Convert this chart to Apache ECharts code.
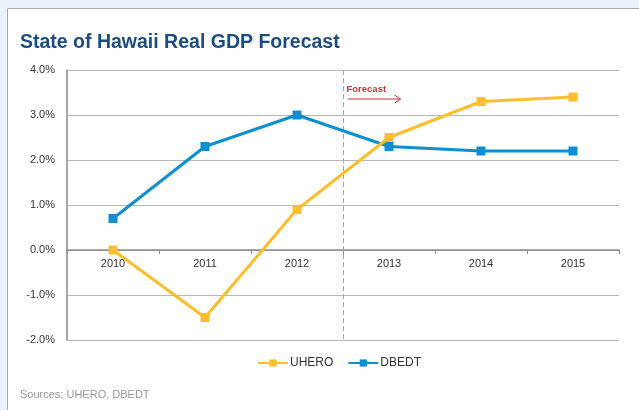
<!DOCTYPE html>
<html><head><meta charset="utf-8">
<script src="https://cdn.jsdelivr.net/npm/echarts@6/dist/echarts.min.js"></script>
<style>html,body{margin:0;padding:0;background:#fff}#c{width:639px;height:410px}</style>
</head><body><div id="c"></div>
<script>
const categories = ['2010','2011','2012','2013','2014','2015'];
const uhero = [0.0, -1.5, 0.9, 2.5, 3.3, 3.4];
const dbedt = [0.7, 2.3, 3.0, 2.3, 2.2, 2.2];
const yTicks = [-2, -1, 0, 1, 2, 3, 4];
const forecastStart = ['2012', '2013'];

const FONT = 'Liberation Sans, Arial, sans-serif';
const chart = echarts.init(document.getElementById('c'), null, {renderer: 'canvas'});
chart.setOption({
  animation: false,
  textStyle: {fontFamily: FONT},
  title: {
    text: 'State of Hawaii Real GDP Forecast',
    left: 15, top: 28,
    textStyle: {fontFamily: FONT, fontSize: 19.5, fontWeight: 'bold', color: '#1d4c80'}
  },
  grid: {left: 67, right: 20, top: 70, bottom: 70, containLabel: false},
  legend: {
    left: 252, top: 352,
    itemWidth: 30, itemHeight: 9, itemGap: 14,
    textStyle: {fontFamily: FONT, fontSize: 12, color: '#333', padding: [0,0,0,-3]},
    data: ['UHERO', 'DBEDT']
  },
  xAxis: {
    type: 'category', data: categories, boundaryGap: true,
    axisLine: {onZero: true, lineStyle: {color: '#8a8a8a', width: 1.5}},
    axisTick: {show: true, length: 4, lineStyle: {color: '#8a8a8a'}},
    axisLabel: {fontFamily: FONT, fontSize: 11, color: '#333', margin: 8},
    splitLine: {show: false}
  },
  yAxis: {
    type: 'value', min: yTicks[0], max: yTicks[yTicks.length-1], interval: 1,
    axisLine: {show: true, lineStyle: {color: '#8a8a8a', width: 1.5}},
    axisTick: {show: false},
    axisLabel: {fontFamily: FONT, fontSize: 11, color: '#333', margin: 12,
      formatter: v => v.toFixed(1) + '%'},
    splitLine: {lineStyle: {color: '#b8b8b8', width: 1}}
  },
  series: [
    {name: 'UHERO', type: 'line', data: uhero, symbol: 'rect', symbolSize: 9,
     itemStyle: {color: '#fdbf2d'}, lineStyle: {color: '#fdbf2d', width: 3}, z: 3},
    {name: 'DBEDT', type: 'line', data: dbedt, symbol: 'rect', symbolSize: 9,
     itemStyle: {color: '#0f8fcf'}, lineStyle: {color: '#0f8fcf', width: 3}, z: 2}
  ]
});

const xa = chart.convertToPixel({xAxisIndex: 0}, forecastStart[0]);
const xb = chart.convertToPixel({xAxisIndex: 0}, forecastStart[1]);
const xd = Math.round((xa + xb) / 2) + 0.5;
const yTop = chart.convertToPixel({yAxisIndex: 0}, yTicks[yTicks.length-1]);
const yBot = chart.convertToPixel({yAxisIndex: 0}, yTicks[0]);
const yZero = chart.convertToPixel({yAxisIndex: 0}, 0);
const red = '#c0393b';
chart.setOption({
  xAxis: {axisLabel: {margin: 8 - (yBot - yZero)}},
  graphic: [
    {type: 'rect', z: -10, silent: true, shape: {x: 0, y: 0, width: 639, height: 410}, style: {fill: '#eaf1fa'}},
    {type: 'rect', z: -9, silent: true, shape: {x: 7.5, y: 8.5, width: 640, height: 410}, style: {fill: '#ffffff', stroke: '#a9a9a9', lineWidth: 1}},
    {type: 'line', z: 1, silent: true, shape: {x1: xd, y1: yTop, x2: xd, y2: yBot},
     style: {stroke: '#a6a6a6', lineWidth: 1, lineDash: [5, 3]}},
    {type: 'text', z: 5, silent: true, x: xd + 3, y: 84,
     style: {text: 'Forecast', fill: red, font: 'bold 9.5px ' + FONT}},
    {type: 'line', z: 5, silent: true, shape: {x1: xd + 4, y1: 99, x2: xd + 57, y2: 99}, style: {stroke: red, lineWidth: 1}},
    {type: 'polyline', z: 5, silent: true, shape: {points: [[xd + 51, 95], [xd + 57, 99], [xd + 51, 103]]}, style: {stroke: red, lineWidth: 1, fill: null}},
    {type: 'text', z: 5, silent: true, x: 20, y: 389,
     style: {text: 'Sources: UHERO, DBEDT', fill: '#999', font: '11px ' + FONT}}
  ]
});
</script></body></html>
